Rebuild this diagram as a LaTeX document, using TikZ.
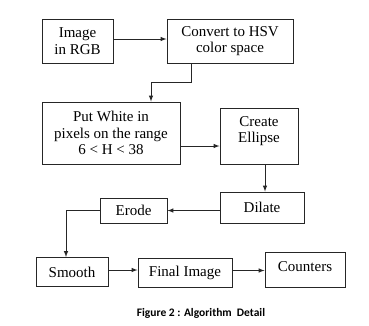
\documentclass[tikz,border=0pt]{standalone}
\usepackage{fontspec}
\setmainfont{Liberation Serif}
\newfontfamily\capfont{Carlito}
\usetikzlibrary{arrows}

\begin{document}
\begin{tikzpicture}[x=1pt,y=-1pt,
    box/.style={draw=black!85, line width=1pt, align=center, inner sep=0pt,
      font=\fontsize{15}{16.5}\selectfont},
    arrow/.style={-latex, line width=1pt, draw=black!85}]
    \useasboundingbox (0,0) rectangle (369,325);
    % boxes
    \node[box, minimum width=71, minimum height=44] (rgb) at (77.5,41) {Image\\in RGB};
    \node[box, minimum width=126, minimum height=44] (hsv) at (230,41) {Convert to HSV\\color space};
    \node[box, minimum width=138, minimum height=62] (white) at (111,133) {Put White in\\pixels on the range\\6 < H < 38};
    \node[box, minimum width=78, minimum height=56] (ellipse) at (259,136) {Create\\Ellipse\\[-4pt]};
    \node[box, minimum width=84, minimum height=31] (dilate) at (262,207.5) {Dilate};
    \node[box, minimum width=67, minimum height=25] (erode) at (133.5,210.5) {Erode};
    \node[box, minimum width=72, minimum height=29] (smooth) at (72,272) {Smooth};
    \node[box, minimum width=94, minimum height=29] (final) at (185,272.5) {Final Image};
    \node[box, minimum width=80, minimum height=35] (counters) at (305,269.5) {Counters\\[-11.5pt]};
    % arrows
    \draw[arrow] ([yshift=2pt]rgb.east) -- ([yshift=2pt]rgb.east -| hsv.west);
    \draw[arrow] ([xshift=-39pt]hsv.south) -- ++(0,19) -| ([xshift=40pt]white.north);
    \draw[arrow] ([yshift=-13pt]white.east) -- ([yshift=-13pt]white.east -| ellipse.west);
    \draw[arrow] ([xshift=6pt]ellipse.south) -- ([xshift=6pt]ellipse.south |- dilate.north);
    \draw[arrow] (dilate.west |- erode) -- (erode.east);
    \draw[arrow] (erode.west) -| ([xshift=-6pt]smooth.north);
    \draw[arrow] ([yshift=2pt]smooth.east) -- ([yshift=2pt]smooth.east -| final.west);
    \draw[arrow] ([yshift=2pt]final.east) -- ([yshift=2pt]final.east -| counters.west);
    % caption
    \node[font=\capfont\bfseries\fontsize{11.5}{13}\selectfont] (caption) at (201,313) {Figure 2 : Algorithm\ \ Detail};
\end{tikzpicture}
\end{document}
